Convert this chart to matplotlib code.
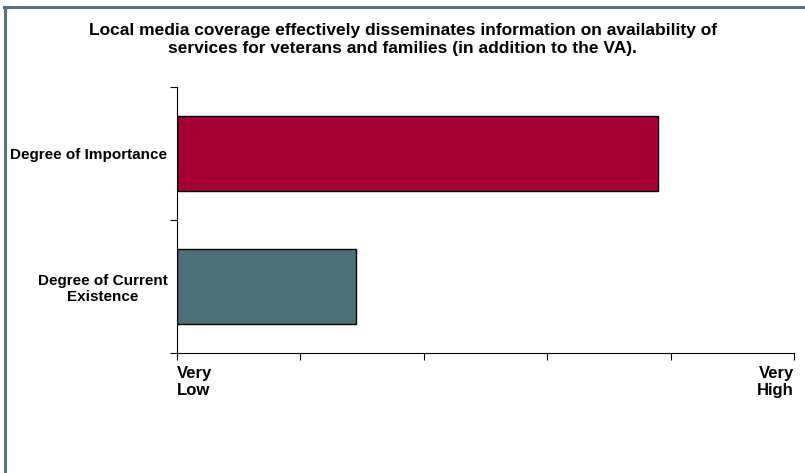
import matplotlib
matplotlib.use("Agg")
import matplotlib.pyplot as plt
from matplotlib.lines import Line2D

categories = ["Degree of Current\nExistence", "Degree of Importance"]
values = [1.45, 3.9]
colors = ["#4F6F78", "#A50034"]
xtick_labels = ["Very\nLow", "", "", "", "", "Very\nHigh"]
title = ("Local media coverage effectively disseminates information on availability of\n"
         "services for veterans and families (in addition to the VA).")

plt.rcParams['font.family'] = ['Liberation Sans', 'DejaVu Sans']

fig = plt.figure(figsize=(8.05, 4.73), dpi=100)
ax = fig.add_axes([177/805, 1-353/473, (794-177)/805, (353-87)/473])

ypos = list(range(len(categories)))
ax.barh(ypos, values, height=0.56, color=colors, edgecolor="black", linewidth=1.0)

ax.set_xlim(0, 5)
ax.set_ylim(-0.5, 1.5)
ax.set_xticks(range(6))
ax.set_xticklabels(xtick_labels, fontsize=12, fontweight="bold", linespacing=1.2)
labs = ax.get_xticklabels()
labs[0].set_ha("left")
labs[-1].set_ha("right")
ax.set_yticks(ypos)
ax.set_yticklabels(categories, fontsize=11, fontweight="bold", ma="center", linespacing=1.15)
ax.set_yticks([-0.5, 0.5, 1.5], minor=True)
ax.tick_params(axis="y", which="major", length=0, pad=7)
ax.tick_params(axis="y", which="minor", length=5, width=0.8, direction="out")
ax.tick_params(axis="x", length=5, width=0.8, direction="out", pad=4)

for s in ["top", "right"]:
    ax.spines[s].set_visible(False)
for s in ["left", "bottom"]:
    ax.spines[s].set_linewidth(0.8)

fig.text(0.5, 1-40/473, title, ha="center", va="center", fontsize=12.5,
         fontweight="bold", linespacing=1.25)

border_color = "#5A7380"
fig.add_artist(Line2D([5/805, 5/805], [0, 1-7/473], color=border_color, lw=2.2,
                      transform=fig.transFigure))
fig.add_artist(Line2D([4/805, 1], [1-7/473, 1-7/473], color=border_color, lw=2.2,
                      transform=fig.transFigure))

fig.savefig("out.png", dpi=100)
